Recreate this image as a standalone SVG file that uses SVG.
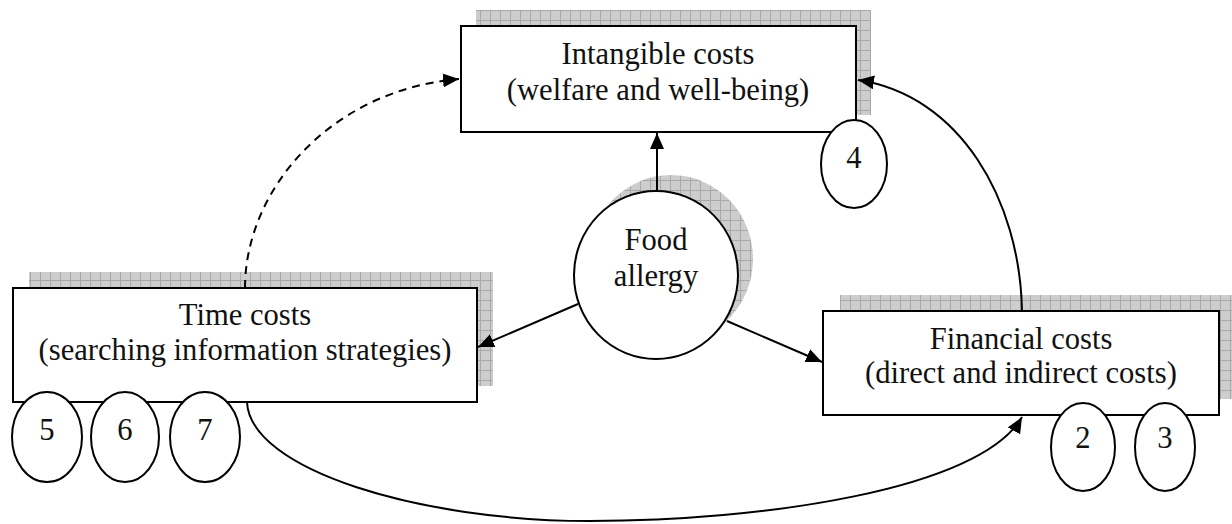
<svg xmlns="http://www.w3.org/2000/svg" width="1232" height="524" viewBox="0 0 1232 524">
<style>
.box{fill:#fff;stroke:#000;stroke-width:2}
.shadow{fill:url(#grid)}
.oval{fill:#fff;stroke:#000;stroke-width:2}
.t{font-family:"Liberation Serif","Times New Roman",serif;font-size:30.6px;fill:#111;text-anchor:middle}
.conn{fill:none;stroke:#000;stroke-width:2}
.dash{stroke-dasharray:8 6}
</style>
<defs>
<pattern id="grid" patternUnits="userSpaceOnUse" width="10" height="10">
<rect width="10" height="10" fill="#cdcdcd"/>
<path d="M0 0.5H10M0.5 0V10" stroke="#a8a8a8" stroke-width="1"/>
</pattern>
<marker id="ah" markerUnits="userSpaceOnUse" markerWidth="18" markerHeight="14" refX="16" refY="7" orient="auto">
<path d="M0 0L16 7L0 14Z" fill="#000"/>
</marker>
</defs>
<g id="shadows">
<rect class="shadow" x="476" y="10" width="395" height="105"/>
<rect class="shadow" x="29" y="272" width="464" height="114"/>
<rect class="shadow" x="840" y="295" width="396" height="104"/>
<ellipse class="shadow" cx="671" cy="259" rx="82" ry="84"/>
</g>
<g id="connectors">
<path class="conn" d="M657 191V133" marker-end="url(#ah)"/>
<path class="conn" d="M578 304L478 347" marker-end="url(#ah)"/>
<path class="conn" d="M727 321L822 362" marker-end="url(#ah)"/>
<path class="conn dash" d="M245 288C245 190 330 90 459 79" marker-end="url(#ah)"/>
<path class="conn" d="M1022 311C1020 200 960 95 858 80" marker-end="url(#ah)"/>
<path class="conn" d="M247 402C250 470 420 521 590 521C760 521 980 490 1022 417" marker-end="url(#ah)"/>
</g>
<g id="intangible">
<rect class="box" x="461" y="26" width="395" height="106"/>
<text class="t" x="658" y="64">Intangible costs</text>
<text class="t" x="658" y="100">(welfare and well-being)</text>
</g>
<g id="time">
<rect class="box" x="13" y="288" width="464" height="114"/>
<text class="t" x="245" y="325">Time costs</text>
<text class="t" x="245" y="360">(searching information strategies)</text>
</g>
<g id="financial">
<rect class="box" x="823" y="311" width="396" height="104"/>
<text class="t" x="1021" y="349">Financial costs</text>
<text class="t" x="1021" y="383">(direct and indirect costs)</text>
</g>
<g id="food">
<ellipse class="oval" cx="656" cy="275" rx="82" ry="84"/>
<text class="t" x="656" y="250">Food</text>
<text class="t" x="656" y="286">allergy</text>
</g>
<g id="n4"><ellipse class="oval" cx="854" cy="164" rx="33" ry="44"/><text class="t" x="854" y="168">4</text></g>
<g id="n5"><ellipse class="oval" cx="47" cy="437" rx="35" ry="45"/><text class="t" x="47" y="440">5</text></g>
<g id="n6"><ellipse class="oval" cx="125" cy="437" rx="34" ry="45"/><text class="t" x="125" y="440">6</text></g>
<g id="n7"><ellipse class="oval" cx="205" cy="437" rx="35" ry="45"/><text class="t" x="205" y="440">7</text></g>
<g id="n2"><ellipse class="oval" cx="1083" cy="447" rx="32" ry="44"/><text class="t" x="1083" y="448">2</text></g>
<g id="n3"><ellipse class="oval" cx="1165" cy="447" rx="30" ry="44"/><text class="t" x="1165" y="448">3</text></g>
</svg>
